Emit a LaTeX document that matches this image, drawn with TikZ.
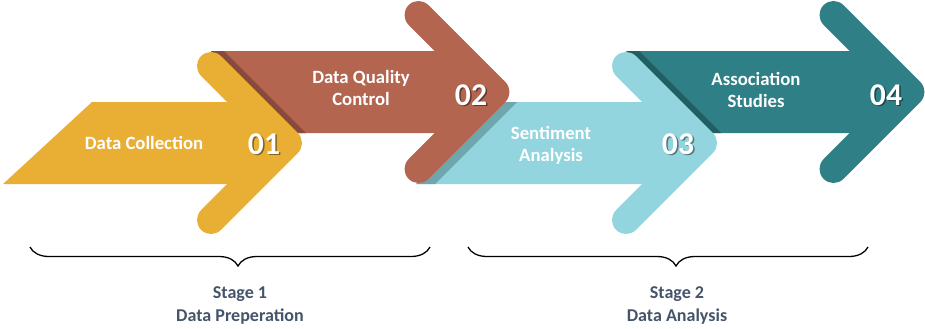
\documentclass[tikz,border=0pt]{standalone}
\usepackage{fontspec}
\setmainfont{Carlito}
\usepackage{tikz}
\usetikzlibrary{positioning,decorations.pathreplacing}

\definecolor{stepyellow}{HTML}{E9AF35}
\definecolor{stepbrown}{HTML}{B4654F}
\definecolor{stepsky}{HTML}{92D5DF}
\definecolor{stepteal}{HTML}{2E7F86}
\definecolor{shadebrown}{HTML}{8A4A3B}
\definecolor{shadesky}{HTML}{6FA6AD}
\definecolor{shadeteal}{HTML}{205E62}
\definecolor{stagegray}{HTML}{44546A}

\begin{document}
\begin{tikzpicture}[x=0.03cm, y=-0.03cm,
  arrowtext/.style={text=white, font=\fontsize{16}{18.8}\selectfont\bfseries, align=center},
  arrownum/.style={text=white, font=\fontsize{27}{30}\selectfont\bfseries},
  numshade/.style={text=black, opacity=0.45, font=\fontsize{27}{30}\selectfont\bfseries},
  stagetext/.style={text=stagegray, font=\fontsize{15.4}{19.6}\selectfont\bfseries, align=center},
  stagebrace/.style={draw, line width=1.1pt, decorate,
    decoration={brace, mirror, amplitude=0.57cm, aspect=0.52}}]
  \useasboundingbox (0,0) rectangle (925,328);
  %----- chevron head: (tip x, tip y, colour) -----
  \def\arrowhead#1#2#3{
    \draw[#3, line width=0.84cm, line cap=round, line join=round]
      (#1-77,#2-77) -- (#1,#2) -- (#1-77,#2+77);
  }

  %----- 04 (teal), lowest layer -----
  \fill[stepteal]  (626,51) -- (869.5,51) -- (910.5,92) -- (869.5,133) -- (708,133) -- cycle;
  \fill[shadeteal] (626,51) -- (639,51) -- (721,133) -- (708,133) -- cycle;
  \arrowhead{910.5}{92}{stepteal}

  %----- 03 (sky) -----
  \fill[stepsky]  (498,102) -- (662,102) -- (703,143) -- (662,184) -- (416,184) -- cycle;
  \fill[shadesky] (498,102) -- (517,102) -- (435,184) -- (416,184) -- cycle;
  \arrowhead{703}{143}{stepsky}

  %----- 02 (brown) -----
  \fill[stepbrown]  (211,51) -- (454.5,51) -- (495.5,92) -- (454.5,133) -- (293,133) -- cycle;
  \fill[shadebrown] (211,51) -- (224,51) -- (306,133) -- (293,133) -- cycle;
  \arrowhead{495.5}{92}{stepbrown}

  %----- 01 (yellow), top layer, with cut tail -----
  \fill[stepyellow] (92,102) -- (247,102) -- (288,143) -- (247,184) -- (3,184) -- cycle;
  \arrowhead{288}{143}{stepyellow}

  %----- labels on the arrows -----
  \node[arrowtext] (txt1) at (144,143) {Data Collection};
  \node[arrowtext] (txt2) at (361,88) {Data Quality\\Control};
  \node[arrowtext] (txt3) at (551,145.5) {Sentiment\\Analysis};
  \node[arrowtext] (txt4) at (756,90) {Association\\Studies};

  % numbers, each with a soft drop shadow
  \node[numshade] (num1s) at (265.5,145.5) {01};
  \node[arrownum]  (num1)  at (264,144) {01};
  \node[numshade] (num2s) at (472.5,96.5) {02};
  \node[arrownum]  (num2)  at (471,95) {02};
  \node[numshade] (num3s) at (679.5,145.5) {03};
  \node[arrownum]  (num3)  at (678,144) {03};
  \node[numshade] (num4s) at (887.5,96.5) {04};
  \node[arrownum]  (num4)  at (886,95) {04};

  %----- stage braces -----
  \coordinate (brace1l) at (30,247);
  \coordinate (brace1r) at (430,247);
  \coordinate (brace2l) at (468,247);
  \coordinate (brace2r) at (868,247);
  \draw[stagebrace] (brace1l) -- (brace1r);
  \draw[stagebrace] (brace2l) -- (brace2r);

  \node[stagetext] (stage1) at (240,305.5) {Stage 1\\Data Preperation};
  \node[stagetext] (stage2) at (677,305.5) {Stage 2\\Data Analysis};
\end{tikzpicture}
\end{document}
